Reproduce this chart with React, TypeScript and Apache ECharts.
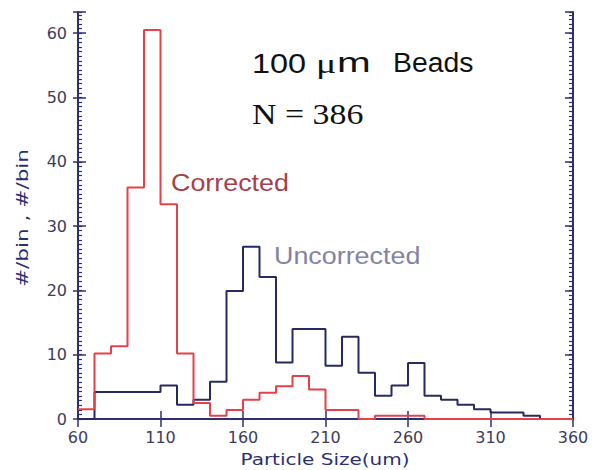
import React, { useEffect, useRef } from "react";
import * as echarts from "echarts";

// Histogram bins (left edge, width 10 um)
const BIN_STARTS = [60, 70, 80, 90, 100, 110, 120, 130, 140, 150, 160, 170, 180, 190, 200, 210, 220, 230, 240, 250, 260, 270, 280, 290, 300, 310, 320, 330, 340, 350];
const BIN_END = 360;
const CORRECTED = [1.5, 10.2, 11.3, 36, 60.5, 33.4, 10.2, 2.5, 0.5, 1.4, 3.0, 4.1, 5.1, 6.7, 4.6, 1.4, 1.4, 0, 0.5, 0.5, 0.5, 0, 0, 0, 0, 0, 0, 0, 0, 0];
const UNCORRECTED = [0, 4.2, 4.2, 4.2, 4.2, 5.2, 2.2, 3.0, 5.8, 19.9, 26.8, 22.1, 8.8, 14.0, 14.0, 8.3, 12.8, 7.2, 3.6, 5.2, 8.7, 3.6, 3.0, 2.2, 1.5, 1.0, 1.0, 0.5, 0, 0];

const X_TICKS = [60, 110, 160, 210, 260, 310, 360];
const Y_TICKS = [0, 10, 20, 30, 40, 50, 60];
const X_MIN = 60;
const X_MAX = 360;
const Y_MAX = 63.3;

const NAVY = "#2c3070";
const LINE_NAVY = "#262a5e";
const RED = "#e6404a";
const LABEL = "#3d3d5a";

function histData(vals: number[]) {
  const pts = BIN_STARTS.map((x, i) => [x - X_MIN, vals[i]]);
  pts.push([BIN_END - X_MIN, vals[vals.length - 1]]);
  return pts;
}

export default function App() {
  const ref = useRef<HTMLDivElement>(null);
  useEffect(() => {
    if (!ref.current) return;
    const chart = echarts.init(ref.current, null, { renderer: "svg" });
    const xInterval = X_TICKS[1] - X_TICKS[0];
    const yInterval = Y_TICKS[1] - Y_TICKS[0];
    const baseY = {
      type: "value",
      min: 0,
      max: Y_MAX,
      splitLine: { show: false },
    };
    const hideLabel = { show: false };
    const option: any = {
      animation: false,
      backgroundColor: "#ffffff",
      grid: { left: 78, right: 23, top: 12, bottom: 51 },
      xAxis: [
        {
          type: "value",
          position: "bottom",
          min: 0,
          max: X_MAX - X_MIN,
          interval: xInterval,
          splitLine: { show: false },
          axisLine: { show: true, lineStyle: { color: NAVY, width: 2 } },
          axisTick: { show: true, inside: true, length: 8, lineStyle: { color: NAVY, width: 1.5 } },
          axisLabel: {
            show: true,
            margin: 10,
            color: LABEL,
            fontFamily: "DejaVu Sans",
            fontSize: 16,
            formatter: (v: number) => String(v + X_MIN),
          },
        },
        {
          type: "value",
          position: "top",
          min: 0,
          max: X_MAX - X_MIN,
          interval: xInterval,
          splitLine: { show: false },
          axisLine: { show: true, lineStyle: { color: NAVY, width: 2 } },
          axisTick: { show: true, inside: true, length: 8, lineStyle: { color: NAVY, width: 1.5 } },
          axisLabel: hideLabel,
        },
      ],
      yAxis: [
        {
          ...baseY,
          position: "left",
          interval: yInterval,
          axisLine: { show: true, lineStyle: { color: NAVY, width: 2 } },
          axisTick: { show: true, inside: true, length: 8, lineStyle: { color: NAVY, width: 1.5 } },
          axisLabel: {
            show: true,
            margin: 11,
            color: LABEL,
            fontFamily: "DejaVu Sans",
            fontSize: 16,
            formatter: (v: number) => (Y_TICKS.indexOf(v) >= 0 ? String(v) : ""),
          },
        },
        {
          ...baseY,
          position: "left",
          interval: yInterval / 14,
          axisLine: { show: false },
          axisTick: { show: true, inside: true, length: 4, lineStyle: { color: NAVY, width: 1.2 } },
          axisLabel: hideLabel,
        },
        {
          ...baseY,
          position: "left",
          interval: yInterval,
          axisLine: { show: false },
          axisTick: { show: true, inside: false, length: 5, lineStyle: { color: NAVY, width: 1.5 } },
          axisLabel: hideLabel,
        },
        {
          ...baseY,
          position: "right",
          interval: yInterval,
          axisLine: { show: true, lineStyle: { color: NAVY, width: 2 } },
          axisTick: { show: true, inside: true, length: 8, lineStyle: { color: NAVY, width: 1.5 } },
          axisLabel: hideLabel,
        },
        {
          ...baseY,
          position: "right",
          interval: yInterval / 14,
          axisLine: { show: false },
          axisTick: { show: true, inside: true, length: 4, lineStyle: { color: NAVY, width: 1.2 } },
          axisLabel: hideLabel,
        },
      ],
      series: [
        {
          name: "Uncorrected",
          type: "line",
          step: "end",
          xAxisIndex: 0,
          yAxisIndex: 0,
          data: histData(UNCORRECTED),
          showSymbol: false,
          symbol: "none",
          lineStyle: { color: LINE_NAVY, width: 2 },
          z: 3,
        },
        {
          name: "Corrected",
          type: "line",
          step: "end",
          xAxisIndex: 0,
          yAxisIndex: 0,
          data: histData(CORRECTED),
          showSymbol: false,
          symbol: "none",
          lineStyle: { color: RED, width: 2 },
          z: 4,
        },
      ],
      graphic: [
        {
          type: "text",
          x: 252,
          y: 63,
          scaleX: 1.2,
          style: { text: "100", font: "27px 'Liberation Sans'", fill: "#111", align: "left", verticalAlign: "middle" },
        },
        {
          type: "text",
          x: 316,
          y: 63,
          scaleX: 1.35,
          style: { text: "μ", font: "28px 'Liberation Serif'", fill: "#111", align: "left", verticalAlign: "middle" },
        },
        {
          type: "text",
          x: 337,
          y: 63,
          scaleX: 1.5,
          style: { text: "m", font: "27px 'Liberation Sans'", fill: "#111", align: "left", verticalAlign: "middle" },
        },
        {
          type: "text",
          x: 393,
          y: 63,
          scaleX: 1.05,
          style: { text: "Beads", font: "27px 'Liberation Sans'", fill: "#111", align: "left", verticalAlign: "middle" },
        },
        {
          type: "text",
          x: 252,
          y: 114,
          scaleX: 1.13,
          style: { text: "N = 386", font: "30px 'Liberation Serif'", fill: "#111", align: "left", verticalAlign: "middle" },
        },
        {
          type: "text",
          x: 171,
          y: 183,
          scaleX: 1.12,
          style: { text: "Corrected", font: "24px 'Liberation Sans'", fill: "#a6404e", align: "left", verticalAlign: "middle" },
        },
        {
          type: "text",
          x: 274,
          y: 256,
          scaleX: 1.12,
          style: { text: "Uncorrected", font: "24px 'Liberation Sans'", fill: "#8583a3", align: "left", verticalAlign: "middle" },
        },
        {
          type: "text",
          x: 22,
          y: 218,
          rotation: Math.PI / 2,
          scaleX: 1.35,
          style: { text: "#/bin , #/bin", font: "16px 'DejaVu Sans'", fill: NAVY, align: "center", verticalAlign: "middle" },
        },
        {
          type: "text",
          x: 325,
          y: 459,
          scaleX: 1.25,
          style: { text: "Particle Size(um)", font: "16px 'DejaVu Sans'", fill: NAVY, align: "center", verticalAlign: "middle" },
        },
      ],
    };
    chart.setOption(option);
    return () => chart.dispose();
  }, []);
  return (
    <div
      ref={ref}
      style={{ position: "fixed", left: 0, top: 0, width: 596, height: 470, background: "#fff" }}
    />
  );
}
